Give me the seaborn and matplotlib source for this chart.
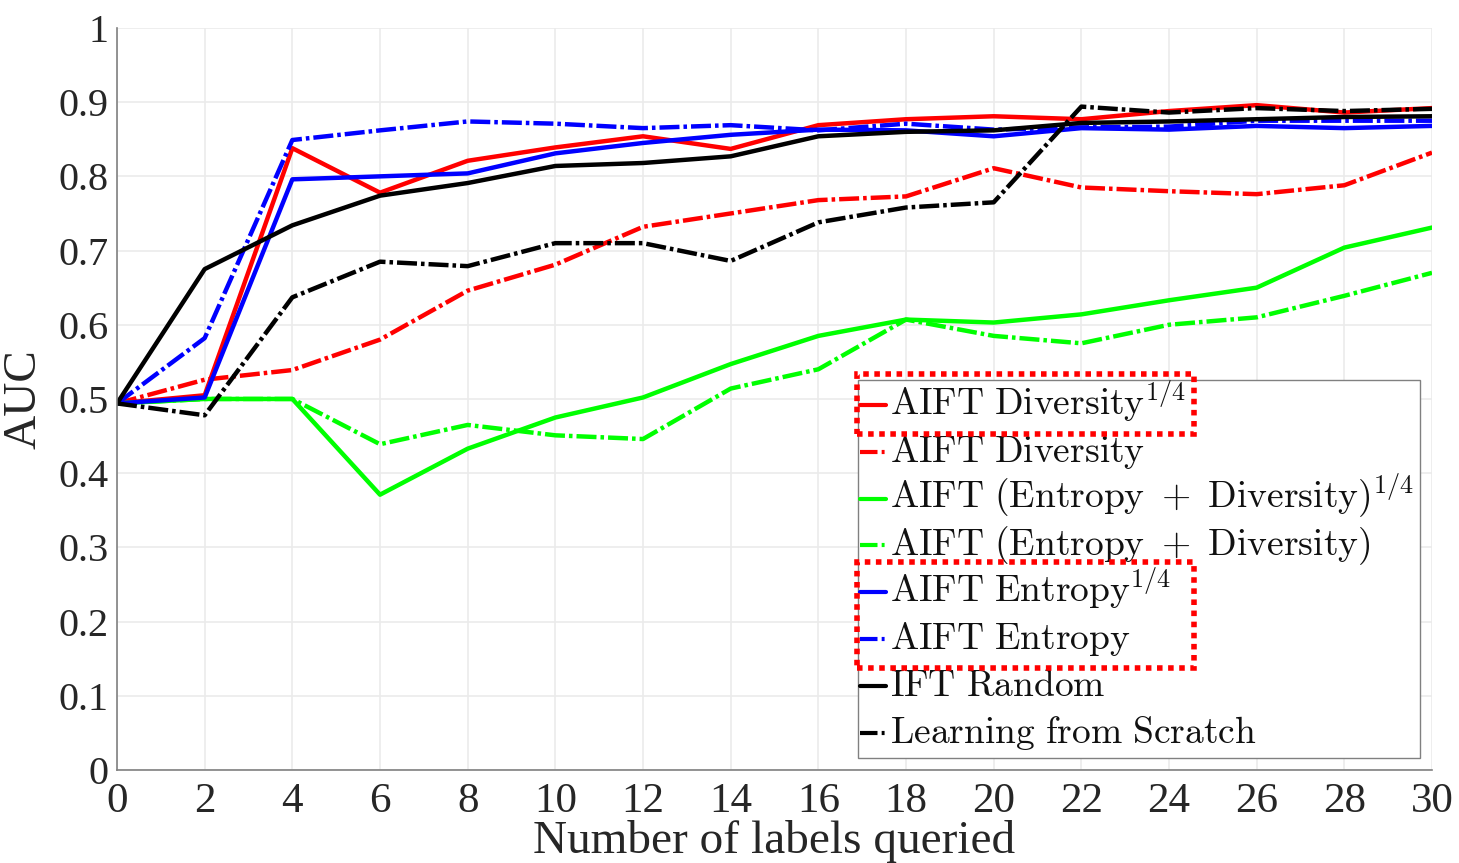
import matplotlib
matplotlib.use("Agg")
import matplotlib.pyplot as plt
import seaborn as sns
import pandas as pd
from matplotlib.patches import Rectangle
from matplotlib.lines import Line2D

x_labels = [0, 2, 4, 6, 8, 10, 12, 14, 16, 18, 20, 22, 24, 26, 28, 30]

div_q = [0.494, 0.505, 0.838, 0.778, 0.821, 0.839, 0.854, 0.837, 0.869, 0.877, 0.881, 0.877, 0.888, 0.896, 0.886, 0.892]
div = [0.494, 0.526, 0.539, 0.580, 0.646, 0.681, 0.732, 0.750, 0.768, 0.773, 0.811, 0.785, 0.780, 0.776, 0.788, 0.832]
ent_div_q = [0.494, 0.500, 0.500, 0.371, 0.433, 0.475, 0.502, 0.547, 0.585, 0.607, 0.603, 0.614, 0.633, 0.650, 0.704, 0.731]
ent_div = [0.494, 0.500, 0.500, 0.439, 0.465, 0.451, 0.446, 0.514, 0.540, 0.607, 0.585, 0.575, 0.600, 0.610, 0.639, 0.670]
ent_q = [0.494, 0.502, 0.796, 0.800, 0.804, 0.831, 0.845, 0.856, 0.863, 0.862, 0.854, 0.865, 0.863, 0.868, 0.865, 0.868]
ent = [0.494, 0.582, 0.849, 0.862, 0.874, 0.871, 0.865, 0.869, 0.862, 0.871, 0.863, 0.866, 0.867, 0.875, 0.875, 0.875]
ift_random = [0.494, 0.675, 0.734, 0.774, 0.791, 0.814, 0.818, 0.827, 0.854, 0.860, 0.862, 0.872, 0.874, 0.877, 0.880, 0.881]
scratch = [0.494, 0.478, 0.637, 0.685, 0.679, 0.710, 0.710, 0.686, 0.738, 0.758, 0.765, 0.894, 0.886, 0.892, 0.888, 0.891]

series_names = [
    r"$\mathrm{AIFT\ Diversity}^{1/4}$",
    r"$\mathrm{AIFT\ Diversity}$",
    r"$\mathrm{AIFT\ (Entropy\ +\ Diversity)}^{1/4}$",
    r"$\mathrm{AIFT\ (Entropy\ +\ Diversity)}$",
    r"$\mathrm{AIFT\ Entropy}^{1/4}$",
    r"$\mathrm{AIFT\ Entropy}$",
    r"$\mathrm{IFT\ Random}$",
    r"$\mathrm{Learning\ from\ Scratch}$",
]
series_values = [div_q, div, ent_div_q, ent_div, ent_q, ent, ift_random, scratch]
series_colors = ["#ff0000", "#ff0000", "#00ff00", "#00ff00", "#0000ff", "#0000ff", "#000000", "#000000"]
series_dashdot = [False, True, False, True, False, True, False, True]

y_ticks = [0, 0.1, 0.2, 0.3, 0.4, 0.5, 0.6, 0.7, 0.8, 0.9, 1]
y_tick_labels = ["0", "0.1", "0.2", "0.3", "0.4", "0.5", "0.6", "0.7", "0.8", "0.9", "1"]

sns.set_style("white")
plt.rcParams["font.family"] = ["Liberation Serif", "DejaVu Serif"]
plt.rcParams["mathtext.fontset"] = "cm"

fig = plt.figure(figsize=(14.59, 8.63), dpi=100)
ax = fig.add_axes([0.0802, 0.1078, 0.9013, 0.8598])

LW = 3.2
dashdot = (4.5, 0.9, 0.8, 0.9)
for name, vals, col, dd in zip(series_names, series_values, series_colors, series_dashdot):
    df = pd.DataFrame({"x": x_labels, "y": vals})
    sns.lineplot(data=df, x="x", y="y", ax=ax, color=col, linewidth=LW, legend=False)
    if dd:
        ax.lines[-1].set_dashes(dashdot)

ax.set_xlim(0, 30)
ax.set_ylim(0, 1)
ax.set_xticks(x_labels)
ax.set_xticklabels([str(v) for v in x_labels])
ax.set_yticks(y_ticks)
ax.set_yticklabels(y_tick_labels)
ax.tick_params(axis="both", direction="in", length=10, width=1.2, color="#808080",
               labelcolor="#262626")
ax.tick_params(axis="y", labelsize=29, pad=6)
ax.tick_params(axis="x", labelsize=31, pad=9)
ax.grid(True, color="#ebebeb", linewidth=1.2)
for s in ["top", "right"]:
    ax.spines[s].set_visible(False)
for s in ["left", "bottom"]:
    ax.spines[s].set_color("#808080")
    ax.spines[s].set_linewidth(1.2)

ax.set_xlabel("Number of labels queried", fontsize=34, labelpad=-1, color="#262626")
ax.set_ylabel("AUC", fontsize=34, labelpad=9, color="#262626")

# ---- legend box (MATLAB style, uniform row pitch) ----
ax_h = 742.0
ax_w = 1315.0
leg_x0, leg_x1 = 741 / ax_w, 1303 / ax_w
leg_y0, leg_y1 = 12 / ax_h, 390 / ax_h
frame = Rectangle((leg_x0, leg_y0), leg_x1 - leg_x0, leg_y1 - leg_y0, transform=ax.transAxes,
                  facecolor="white", edgecolor="#808080", linewidth=1, zorder=5, clip_on=False)
ax.add_patch(frame)

row0_base = (770 - 415) / ax_h
row_pitch = 46.8 / ax_h
handle_x0, handle_x1 = 743 / ax_w, 769 / ax_w
text_x = 773 / ax_w
handle_rise = 10 / ax_h
leg_texts = []
for i, (name, col, dd) in enumerate(zip(series_names, series_colors, series_dashdot)):
    yb = row0_base - i * row_pitch
    ln = Line2D([handle_x0, handle_x1], [yb + handle_rise] * 2, transform=ax.transAxes,
                color=col, linewidth=3, zorder=6, clip_on=False)
    if dd:
        ln.set_dashes((4.2, 1.0, 0.7, 1.0))
    ax.add_line(ln)
    t = ax.text(text_x, yb, name, transform=ax.transAxes, fontsize=27, va="baseline",
                ha="left", color="#111111", zorder=6, clip_on=False)
    leg_texts.append(t)

fig.canvas.draw()
renderer = fig.canvas.get_renderer()
fb = frame.get_window_extent(renderer)
t0 = leg_texts[0].get_window_extent(renderer)
t4 = leg_texts[4].get_window_extent(renderer)
t5 = leg_texts[5].get_window_extent(renderer)
x0 = fb.x0 - 1
x1 = t0.x1 + 8
inv = fig.transFigure.inverted()

def add_box(ylo, yhi):
    (fx0, fy0) = inv.transform((x0, ylo))
    (fx1, fy1) = inv.transform((x1, yhi))
    r = Rectangle((fx0, fy0), fx1 - fx0, fy1 - fy0, transform=fig.transFigure,
                  fill=False, edgecolor="#ff0000", linewidth=4, linestyle=(0, (1, 1)), zorder=10)
    fig.patches.append(r)

add_box(t0.y0 - 10, t0.y1 + 4)
add_box(t5.y0 - 10, t4.y1 + 4)

fig.savefig("out.png", dpi=100)
